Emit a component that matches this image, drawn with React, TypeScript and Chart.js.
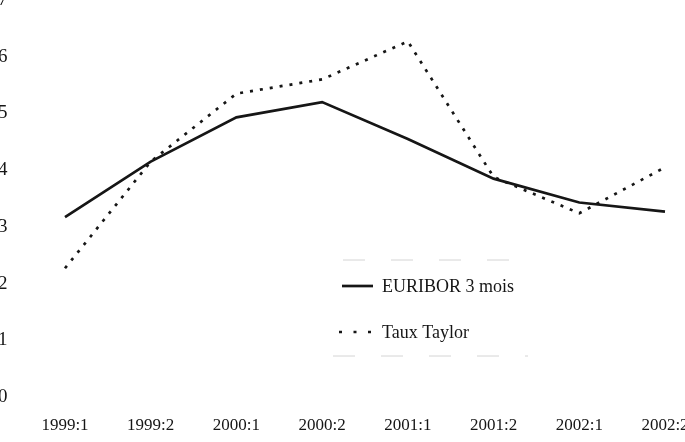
import React, { useEffect, useRef } from "react";
import { Chart, registerables } from "chart.js";

Chart.register(...registerables);

const categories = ["1999:1", "1999:2", "2000:1", "2000:2", "2001:1", "2001:2", "2002:1", "2002:2"];
const euribor = [3.17, 4.15, 4.93, 5.2, 4.55, 3.85, 3.43, 3.27];
const taylor = [2.27, 4.15, 5.35, 5.6, 6.27, 3.88, 3.24, 4.05];
const yMin = 0;
const yMax = 7;
const yStep = 1;
const seriesLabels = ["EURIBOR 3 mois", "Taux Taylor"];

const FONT = "'Liberation Serif', 'Times New Roman', serif";
const INK = "#161616";
const SHIFT = 2; // canvas starts 2px left of the page edge

const legendPlugin = {
  id: "customLegend",
  afterDraw(chart: any) {
    const ctx = chart.ctx as CanvasRenderingContext2D;
    ctx.save();
    ctx.translate(SHIFT, 0);
    // faint remnants of the scanned legend frame
    ctx.strokeStyle = "#d4d4d4";
    ctx.lineWidth = 1;
    ctx.setLineDash([22, 26]);
    ctx.beginPath();
    ctx.moveTo(343, 260);
    ctx.lineTo(528, 260);
    ctx.moveTo(333, 356);
    ctx.lineTo(528, 356);
    ctx.stroke();

    const rows = [286, 332];
    chart.data.datasets.forEach((ds: any, i: number) => {
      const y = rows[i];
      ctx.strokeStyle = ds.borderColor;
      ctx.lineWidth = ds.borderWidth;
      ctx.setLineDash(ds.borderDash && ds.borderDash.length ? [3, 11.5] : []);
      ctx.beginPath();
      ctx.moveTo(i === 0 ? 342 : 339, y);
      ctx.lineTo(373, y);
      ctx.stroke();
      ctx.setLineDash([]);
      ctx.fillStyle = INK;
      ctx.font = `18px ${FONT}`;
      ctx.textAlign = "left";
      ctx.textBaseline = "middle";
      ctx.fillText(ds.label, 382, y + 1);
    });
    ctx.restore();
  },
};

export default function App() {
  const ref = useRef<HTMLCanvasElement | null>(null);

  useEffect(() => {
    if (!ref.current) return;
    const chart = new Chart(ref.current, {
      type: "line",
      data: {
        labels: categories,
        datasets: [
          {
            label: seriesLabels[0],
            data: euribor,
            borderColor: INK,
            borderWidth: 2.7,
            pointRadius: 0,
            tension: 0,
            fill: false,
          },
          {
            label: seriesLabels[1],
            data: taylor,
            borderColor: INK,
            borderWidth: 2.7,
            borderDash: [3, 7],
            pointRadius: 0,
            tension: 0,
            fill: false,
          },
        ],
      },
      options: {
        responsive: false,
        animation: false,
        layout: { padding: { left: 0, right: 20, top: 0, bottom: 0 } },
        plugins: {
          legend: { display: false },
          tooltip: { enabled: false },
        },
        scales: {
          x: {
            offset: false,
            grid: { display: false, drawTicks: false },
            border: { display: false },
            ticks: {
              color: INK,
              font: { family: FONT, size: 17 },
              padding: 18,
              maxRotation: 0,
              autoSkip: false,
            },
            afterFit(scale: any) {
              scale.height = 45;
              scale.paddingLeft = 0;
              scale.paddingRight = 0;
            },
          },
          y: {
            min: yMin,
            max: yMax,
            grid: { display: false, drawTicks: false },
            border: { display: false },
            ticks: {
              stepSize: yStep,
              color: INK,
              font: { family: FONT, size: 19 },
              crossAlign: "far",
              padding: 0,
            },
            afterFit(scale: any) {
              scale.width = 65 + SHIFT;
              scale.paddingTop = 0;
              scale.paddingBottom = 0;
            },
          },
        },
      },
      plugins: [legendPlugin],
    });
    return () => chart.destroy();
  }, []);

  return (
    <div style={{ position: "absolute", left: 0, top: 0, width: 685, height: 442, overflow: "hidden", background: "#fff" }}>
      <canvas
        ref={ref}
        width={685 + SHIFT}
        height={442}
        style={{ display: "block", position: "absolute", left: -SHIFT, top: 0 }}
      />
    </div>
  );
}
